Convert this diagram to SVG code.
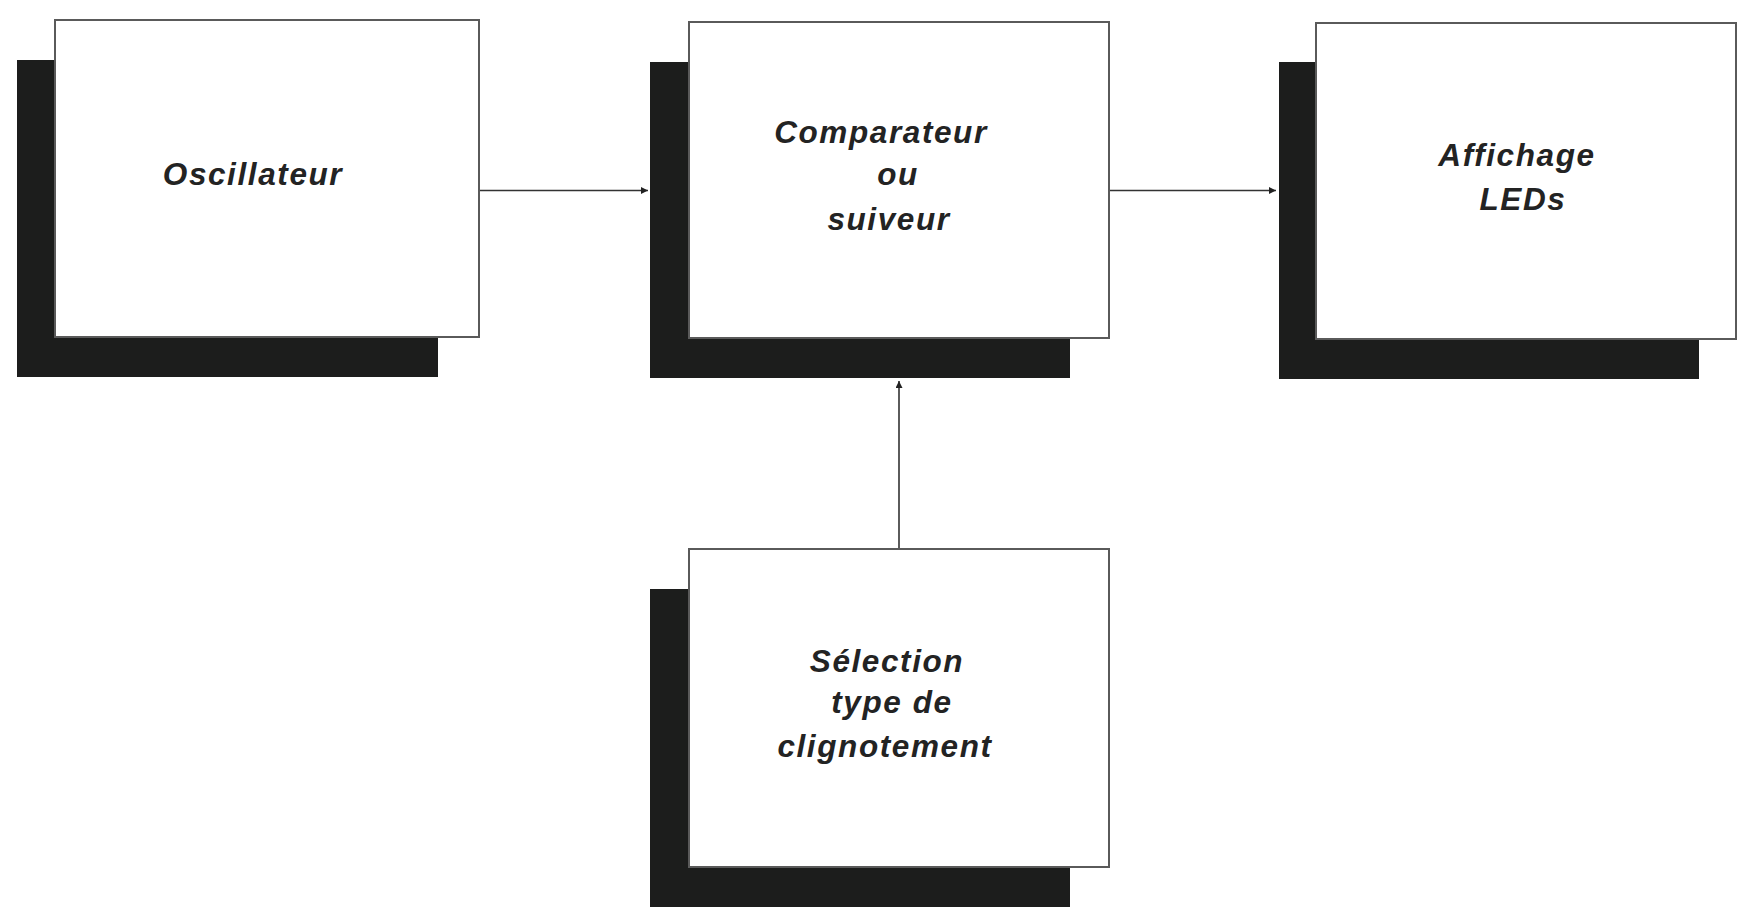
<svg xmlns="http://www.w3.org/2000/svg" width="1737" height="912" viewBox="0 0 1737 912">
<style>
.shadow{fill:#1c1d1c;}
.box{fill:#ffffff;stroke:#5a5a5a;stroke-width:2;}
.lbl{font-family:"Liberation Sans",Arial,sans-serif;font-style:italic;font-weight:bold;font-size:31.5px;letter-spacing:1.6px;fill:#232323;text-anchor:middle;}
.conn{stroke:#333;stroke-width:1.6;fill:none;marker-end:url(#arr);}
</style>
<defs>
<marker id="arr" viewBox="0 0 10 10" refX="10" refY="5" markerWidth="9" markerHeight="7" markerUnits="userSpaceOnUse" orient="auto">
<path d="M0,0 L10,5 L0,10 Z" fill="#222"/>
</marker>
</defs>
<rect width="1737" height="912" fill="#ffffff"/>
<g id="connectors">
<line class="conn" x1="479" y1="190.5" x2="648" y2="190.5"/>
<line class="conn" x1="1109" y1="190.5" x2="1276" y2="190.5"/>
<line class="conn" x1="899" y1="549" x2="899" y2="381"/>
</g>
<g id="oscillateur">
<rect class="shadow" x="17" y="60" width="421" height="317"/>
<rect class="box" x="55" y="20" width="424" height="317"/>
<text class="lbl" x="253" y="185">Oscillateur</text>
</g>
<g id="comparateur">
<rect class="shadow" x="650" y="62" width="420" height="316"/>
<rect class="box" x="689" y="22" width="420" height="316"/>
<text class="lbl" x="881" y="143">Comparateur</text>
<text class="lbl" x="898" y="185">ou</text>
<text class="lbl" x="889" y="230">suiveur</text>
</g>
<g id="affichage">
<rect class="shadow" x="1279" y="62" width="420" height="317"/>
<rect class="box" x="1316" y="23" width="420" height="316"/>
<text class="lbl" x="1517" y="166">Affichage</text>
<text class="lbl" x="1523" y="210">LEDs</text>
</g>
<g id="selection">
<rect class="shadow" x="650" y="589" width="420" height="318"/>
<rect class="box" x="689" y="549" width="420" height="318"/>
<text class="lbl" x="887" y="672">Sélection</text>
<text class="lbl" x="892" y="713">type de</text>
<text class="lbl" x="885" y="757">clignotement</text>
</g>
</svg>
